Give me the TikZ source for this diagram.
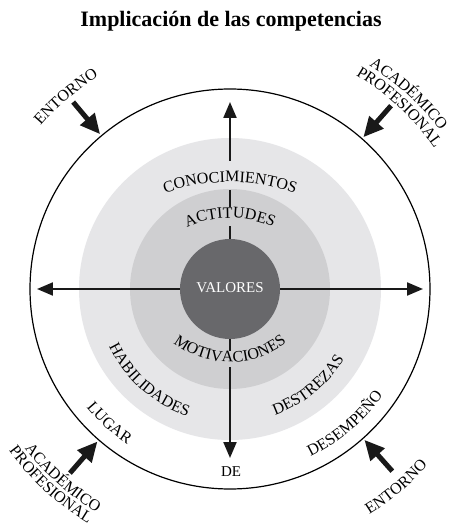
\documentclass[tikz,border=0pt]{standalone}
\usepackage{fontspec}
\setmainfont{Liberation Serif}
\usetikzlibrary{arrows.meta,decorations.text}
\definecolor{ringlight}{RGB}{230,230,232}
\definecolor{ringmid}{RGB}{207,207,209}
\definecolor{ringdark}{RGB}{104,104,107}
\newcommand\lblfont{\fontsize{16}{19}\selectfont}
\newcommand\valfont{\fontsize{15}{18}\selectfont}
\begin{document}
\begin{tikzpicture}[x=1pt,y=1pt,
  curved/.style={decorate,decoration={text along path,text align=center,text={|\lblfont|#1}}},
  mainarrow/.style={line width=2.2pt,draw=black!90},
  mainhead/.style={-{Triangle[length=16pt,width=13pt]}},
  bigarrow/.style={line width=5pt,draw=black!90,-{Triangle[length=20pt,width=18pt]}},
  seg/.style={line width=2.2pt,draw=black!90}]
\useasboundingbox (-230,-238) rectangle (222,289);
% title
\node[font=\bfseries\fontsize{22}{24}\selectfont,anchor=base] (title) at (1,262) {Implicación de las competencias};
% circles
\draw[line width=1.2pt,fill=white] (0,0) circle[radius=200];
\fill[ringlight] (0,0) circle[radius=151];
\fill[ringmid] (0,0) circle[radius=100];
% horizontal arrow
\coordinate (hl) at (-193,0);
\coordinate (hr) at (193,0);
\draw[mainarrow,{Triangle[length=16pt,width=13pt]}-{Triangle[length=16pt,width=13pt]}] (hl) -- (hr);
% centre
\node[circle,fill=ringdark,minimum size=100pt,inner sep=0pt] (core) at (0,0) {};
\node[text=white,font=\valfont] (valores) at (0,1) {VALORES};
% vertical segments
\coordinate (v0) at (0,50);
\coordinate (v1) at (0,63);
\coordinate (v2) at (0,82);
\coordinate (v3) at (0,99);
\coordinate (v4) at (0,128);
\coordinate (vt) at (0,187);
\draw[seg] (v0) -- (v1);
\draw[seg] (v2) -- (v3);
\draw[mainarrow,mainhead] (v4) -- (vt);
\coordinate (w0) at (0,-50);
\coordinate (w1) at (0,-62);
\coordinate (w2) at (0,-78);
\coordinate (wb) at (0,-169);
\draw[seg] (w0) -- (w1);
\draw[mainarrow,mainhead] (w2) -- (wb);
\node[font=\valfont] (de) at (1,-183) {DE};
% outer arrows
\foreach \a/\n in {130/tl,48.7/tr,229/bl,311.7/br}{
  \coordinate (s\n) at (\a:244);
  \coordinate (e\n) at (\a:202);
  \draw[bigarrow] (s\n) -- (e\n);
}
% curved labels inside
\path[curved=CONOCIMIENTOS] ([shift={(0,-86)}]125:193) arc[start angle=125,end angle=55,radius=193];
\path[curved=ACTITUDES] ([shift={(0,-35)}]140:106) arc[start angle=140,end angle=40,radius=106];
\path[curved=MOTIVACIONES] ([shift={(0,20)}]210:93) arc[start angle=210,end angle=330,radius=93];
\path[curved=HABILIDADES] (198.5:134) arc[start angle=198.5,end angle=258.5,radius=134];
\path[curved=DESTREZAS] (279:134) arc[start angle=279,end angle=339,radius=134];
\path[curved=LUGAR] (208:186) arc[start angle=208,end angle=248,radius=186];
\path[curved=DESEMPEÑO] (285.5:186) arc[start angle=285.5,end angle=335.5,radius=186];
% outer labels
\path[curved=ENTORNO] (155.5:250) arc[start angle=155.5,end angle=105.5,radius=250];
\path[curved=ACADÉMICO] (72.5:263) arc[start angle=72.5,end angle=22.5,radius=263];
\path[curved=PROFESIONAL] (72:248) arc[start angle=72,end angle=22,radius=248];
\path[curved=ACADÉMICO] (203.5:260) arc[start angle=203.5,end angle=253.5,radius=260];
\path[curved=PROFESIONAL] (202.5:274) arc[start angle=202.5,end angle=252.5,radius=274];
\path[curved=ENTORNO] (285:265) arc[start angle=285,end angle=335,radius=265];
\end{tikzpicture}
\end{document}
